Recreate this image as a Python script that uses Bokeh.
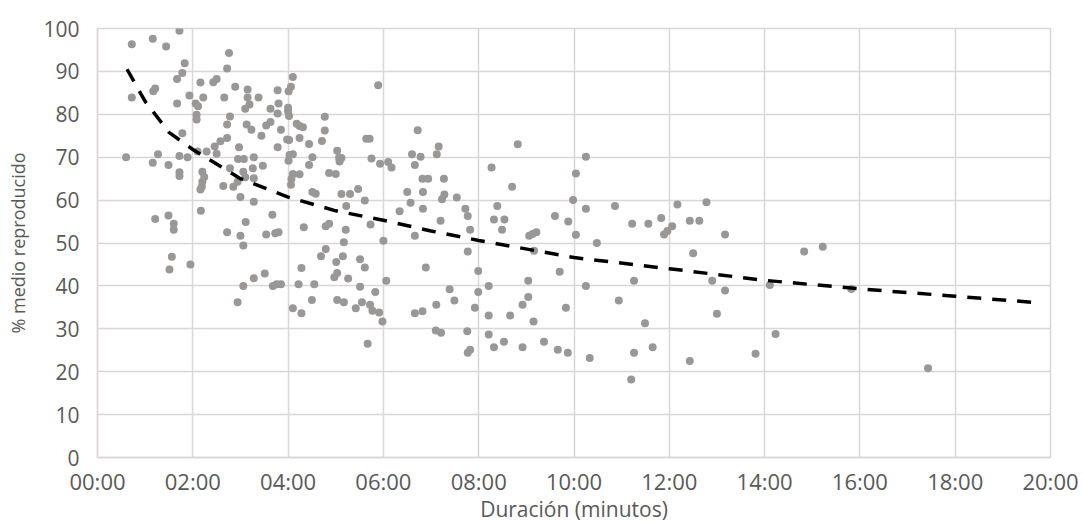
from bokeh.plotting import figure
from bokeh.models import FixedTicker, Range1d
from bokeh.embed import file_html
from bokeh.resources import INLINE

# ---- data (duration in minutes, % average watched) ----
duracion_min = [
    0.60, 0.72, 0.72, 1.16, 1.44, 1.72, 1.21, 1.17, 1.83, 1.78, 1.67, 1.67, 1.93, 1.78,
    1.27, 1.16, 1.49, 1.72, 1.72, 1.72, 1.89, 1.21, 1.49, 1.60, 1.60, 1.56, 1.51, 1.95,
    2.06, 2.11, 2.08, 2.08, 2.16, 2.22, 2.43, 2.50, 2.72, 2.76, 2.89, 2.66, 2.78, 2.72,
    2.72, 2.58, 2.46, 2.50, 2.10, 2.29, 2.20, 2.24, 2.20, 2.19, 2.16, 2.17, 2.64, 2.78,
    2.85, 2.94, 3.00, 2.97, 2.95, 3.07, 3.06, 3.10, 3.15, 3.15, 3.19, 3.10, 3.23, 3.38,
    3.13, 3.28, 3.26, 3.47, 3.28, 3.28, 3.44, 3.54, 3.63, 3.63, 3.78, 3.80, 3.78, 3.85,
    3.78, 3.98, 3.67, 3.80, 3.73, 3.54, 3.11, 3.00, 3.06, 2.72, 2.94, 3.06, 3.28, 3.51,
    3.68, 3.76, 3.85,
    4.00, 4.00, 4.02, 4.01, 4.06, 4.10, 4.03, 4.10, 4.01, 4.10, 4.24, 4.07, 4.06, 4.18,
    4.24, 4.31, 4.24, 4.02, 4.44, 4.51, 4.44, 4.51, 4.58, 4.33, 4.77, 4.77, 4.71, 5.00,
    4.86, 5.03, 5.07, 5.08, 5.12, 5.12, 5.30, 5.47, 4.79, 4.86, 5.21, 5.17, 5.15, 5.01,
    4.79, 4.69, 4.10, 4.28, 4.22, 4.28, 4.50, 4.55, 4.97, 5.03, 5.26, 5.03, 5.17, 5.42,
    5.51, 5.55, 5.72, 5.77, 5.91, 5.98, 5.67, 5.51, 5.61, 5.83, 6.06, 5.64, 5.71, 5.75,
    5.93, 5.89, 5.61, 5.22, 5.73, 6.00,
    6.10, 6.17, 6.72, 6.60, 6.78, 6.66, 6.82, 6.94, 7.12, 7.16, 7.27, 6.50, 6.57, 6.83,
    6.83, 6.34, 7.28, 7.23, 7.54, 7.20, 7.72, 7.77, 7.82, 7.77, 6.66, 6.89, 6.66, 6.82,
    7.11, 7.39, 7.49, 7.10, 7.21, 7.99, 7.99, 7.92, 7.76, 7.82, 7.77,
    8.27, 8.82, 8.70, 8.39, 8.32, 8.54, 8.49, 9.06, 9.13, 9.21, 9.16, 9.60, 9.88, 9.98,
    8.21, 8.21, 8.66, 8.21, 8.32, 8.53, 8.92, 8.92, 9.04, 9.04, 9.15, 9.37, 9.66, 9.87,
    9.70, 9.83,
    10.04, 10.25, 10.25, 10.04, 10.48, 10.86, 10.25, 10.33, 10.94, 11.26, 11.49, 11.65,
    11.26, 11.20, 11.22, 11.56, 11.83, 12.06, 11.96, 11.89, 12.17, 12.43, 12.63, 12.50,
    12.78, 13.17, 14.83, 15.22, 12.90, 13.17, 13.00, 12.43, 13.81, 14.11, 14.23, 15.82,
    17.43,
]
pct_medio = [
    70.0, 96.3, 83.9, 97.6, 95.8, 99.5, 86.0, 85.4, 91.9, 89.6, 88.2, 82.5, 84.4, 75.6,
    70.7, 68.7, 68.2, 70.3, 66.5, 65.6, 70.0, 55.6, 56.4, 54.5, 53.1, 46.8, 43.8, 45.0,
    82.5, 81.9, 79.9, 78.8, 87.4, 83.9, 87.5, 88.2, 90.7, 94.3, 86.4, 83.9, 79.5, 77.6,
    74.5, 73.7, 72.5, 70.8, 71.3, 71.3, 66.6, 65.4, 64.3, 63.1, 62.5, 57.5, 63.3, 67.4,
    63.1, 64.3, 60.7, 72.3, 69.6, 69.6, 66.6, 65.3, 85.8, 83.9, 82.3, 81.3, 76.4, 83.9,
    77.6, 70.0, 67.4, 68.0, 65.1, 59.6, 75.0, 77.4, 78.2, 81.3, 85.6, 82.5, 80.2, 76.4,
    72.3, 74.1, 56.6, 52.5, 52.3, 52.0, 54.9, 51.7, 49.4, 52.5, 36.2, 40.0, 41.8, 42.9,
    40.0, 40.4, 40.4,
    81.5, 80.7, 79.6, 85.4, 86.4, 88.7, 70.5, 70.7, 69.2, 66.1, 66.0, 64.9, 63.6, 77.8,
    77.3, 77.0, 74.5, 74.0, 73.1, 70.0, 68.2, 61.9, 61.5, 53.7, 79.4, 76.2, 73.8, 66.1,
    66.3, 71.5, 69.9, 69.0, 69.8, 61.4, 61.4, 62.6, 53.9, 54.5, 53.1, 50.2, 46.9, 45.6,
    48.6, 46.9, 34.8, 33.6, 40.4, 44.2, 36.7, 40.4, 42.0, 43.0, 41.7, 36.7, 36.2, 34.8,
    39.8, 36.2, 35.6, 34.2, 33.8, 31.7, 26.5, 46.2, 44.3, 38.6, 41.2, 74.3, 74.3, 69.7,
    68.5, 86.8, 59.9, 58.6, 54.3, 50.5,
    68.9, 67.6, 76.3, 70.7, 70.1, 68.2, 65.0, 65.0, 70.7, 72.5, 65.0, 61.9, 59.4, 61.9,
    58.0, 57.4, 61.3, 60.2, 60.6, 55.2, 58.0, 56.3, 53.1, 48.0, 51.7, 44.3, 33.6, 34.1,
    35.6, 39.2, 36.6, 29.6, 29.1, 43.5, 38.6, 34.9, 29.4, 25.1, 24.4,
    67.6, 73.0, 63.1, 58.6, 55.5, 55.5, 53.1, 51.7, 52.1, 52.5, 48.2, 56.3, 55.0, 60.0,
    40.0, 33.1, 33.1, 28.7, 25.7, 27.0, 25.7, 35.6, 37.4, 41.2, 31.7, 27.0, 25.1, 24.4,
    43.3, 34.9,
    66.2, 70.1, 58.0, 51.9, 50.0, 58.6, 40.0, 23.2, 36.6, 41.2, 31.3, 25.7,
    24.4, 18.2, 54.5, 54.5, 55.8, 53.9, 52.8, 52.0, 59.0, 55.2, 55.2, 47.6,
    59.5, 52.0, 48.0, 49.1, 41.2, 38.9, 33.5, 22.5, 24.2, 40.2, 28.8, 39.3,
    20.8,
]

# trend line values
tendencia_x = [0.62, 1.0, 1.5, 2.0, 3.0, 4.0, 5.0, 6.0, 7.0, 8.0, 10.0, 12.0, 14.0, 16.0, 18.0, 19.7]
tendencia_y = [90.5, 83.0, 75.8, 71.8, 65.0, 60.7, 57.5, 55.3, 52.8, 50.6, 46.6, 44.0, 41.3, 39.3, 37.6, 36.1]

x_ticks = [0, 2, 4, 6, 8, 10, 12, 14, 16, 18, 20]
x_tick_labels = ["00:00", "02:00", "04:00", "06:00", "08:00", "10:00",
                 "12:00", "14:00", "16:00", "18:00", "20:00"]
y_ticks = [0, 10, 20, 30, 40, 50, 60, 70, 80, 90, 100]

FONT = "Open Sans"
TXT = "#595959"
GRID = "#dad6d6"

p = figure(width=1083, height=525, output_backend="svg", toolbar_location=None,
           x_range=Range1d(0, 20), y_range=Range1d(0, 100),
           min_border_left=97, min_border_right=33, min_border_top=28, min_border_bottom=60)

p.background_fill_color = "white"
p.border_fill_color = "white"
p.outline_line_color = GRID
p.outline_line_width = 1.5

p.xgrid.ticker = FixedTicker(ticks=x_ticks)
p.ygrid.ticker = FixedTicker(ticks=y_ticks)
for g in (p.xgrid, p.ygrid):
    g.grid_line_color = GRID
    g.grid_line_width = 1.5

p.xaxis.ticker = FixedTicker(ticks=x_ticks)
p.xaxis.major_label_overrides = {t: l for t, l in zip(x_ticks, x_tick_labels)}
p.yaxis.ticker = FixedTicker(ticks=y_ticks)

for ax in (p.xaxis[0], p.yaxis[0]):
    ax.axis_line_color = GRID
    ax.axis_line_width = 1.5
    ax.major_tick_line_color = None
    ax.minor_tick_line_color = None
    ax.major_label_text_font = FONT
    ax.major_label_text_color = TXT
    ax.axis_label_text_font = FONT
    ax.axis_label_text_color = TXT
    ax.axis_label_text_font_style = "normal"

p.xaxis.major_label_text_font_size = "22px"
p.yaxis.major_label_text_font_size = "21px"
p.xaxis.major_label_standoff = 2
p.yaxis.major_label_standoff = 12

p.xaxis.axis_label = "Duración (minutos)"
p.xaxis.axis_label_text_font_size = "21px"
p.xaxis.axis_label_standoff = -4

p.yaxis.axis_label = "% medio reproducido"
p.yaxis.axis_label_text_font_size = "18px"
p.yaxis.axis_label_standoff = 10

p.scatter(duracion_min, pct_medio, size=8, fill_color="#9a9797", line_color=None)
p.line(tendencia_x, tendencia_y, line_color="black", line_width=3.5, line_dash="14 11")

open("out.html", "w").write(file_html(p, INLINE))
